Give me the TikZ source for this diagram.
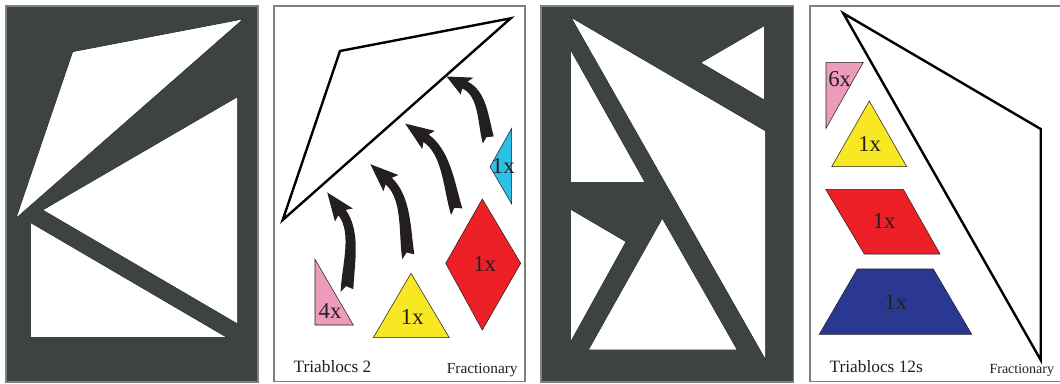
\documentclass[tikz,border=0pt]{standalone}
\usepackage{fontspec}
\setmainfont{Liberation Serif}
\definecolor{panel}{RGB}{61,67,66}
\definecolor{frame}{RGB}{128,128,128}
\definecolor{ink}{RGB}{35,31,32}
\definecolor{pinkc}{RGB}{236,155,187}
\definecolor{yellowc}{RGB}{248,232,36}
\definecolor{redc}{RGB}{237,32,40}
\definecolor{cyanc}{RGB}{44,192,230}
\definecolor{bluec}{RGB}{42,56,146}
\tikzset{
  darkpanel/.style={fill=panel,draw=frame,line width=0.8pt},
  whitepanel/.style={fill=white,draw=frame,line width=0.8pt},
  hole/.style={fill=white,draw=ink,line width=0.4pt,line join=miter},
  outline/.style={draw=black,line width=1.8pt,line join=miter},
  piece/.style={draw=ink,line width=0.4pt},
  count/.style={font=\fontsize{17}{17}\selectfont,text=ink,inner sep=0pt},
  title/.style={font=\fontsize{13}{13}\selectfont,text=ink,inner sep=0pt,anchor=base west},
  brand/.style={font=\fontsize{11.5}{11.5}\selectfont,text=ink,inner sep=0pt,anchor=base west},
  bigarrow/.pic={
    \fill[ink] (0,-4.5) -- (-6.5,0) .. controls (-0.5,-25) and (16.6,-54.6) .. (6.5,-75.5)
      -- (1.85,-70.05) -- (0,-100) -- (21.87,-79.29) -- (14.7,-79.3)
      .. controls (25.6,-54.6) and (12.5,-25) .. (6.5,0) -- cycle;
  }
}
\begin{document}
\begin{tikzpicture}[x=0.75pt,y=-0.75pt]
\useasboundingbox (0,0) rectangle (1060,383);
% panel 1
\path[darkpanel] (6,6) rectangle (258,382);
\path[hole] (72.7,51.7) -- (243.3,19) -- (16,218.3) -- cycle;
\path[hole] (42.7,210) -- (237.7,96.7) -- (237.7,324) -- cycle;
\path[hole] (30.7,222.7) -- (30.7,337.3) -- (226.7,337.3) -- cycle;
% panel 2
\path[whitepanel] (274,6) rectangle (525,381.7);
\path[outline] (340,51) -- (510.7,18.3) -- (282.7,220) -- cycle;
\path[piece,fill=pinkc] (315,259.3) -- (315,325) -- (353.3,325) -- cycle;
\path[piece,fill=yellowc] (411,273.3) -- (449.3,337.7) -- (373.3,337.7) -- cycle;
\path[piece,fill=redc] (482.3,199) -- (520.7,263.3) -- (482.3,330) -- (445.7,263.3) -- cycle;
\path[piece,fill=cyanc] (511.7,128.3) -- (511.7,204) -- (490,166.7) -- cycle;
\pic[rotate=11.4] at (347,290.5) {bigarrow};
\pic[rotate=22.3] at (408.3,256.7) {bigarrow};
\pic[rotate=30.3,yscale=1.02] at (456.7,211.7) {bigarrow};
\pic[rotate=33.3,yscale=0.76] at (488.3,140) {bigarrow};
\node[count] (c4x) at (330,310.8) {4x};
\node[count] (cy2) at (412.3,317.5) {1x};
\node[count] (cr2) at (484.7,264.2) {1x};
\node[count] (cc2) at (503.3,166.3) {1x};
\node[title] (t2) at (293.3,372.7) {Triablocs 2};
\node[brand] (f2) at (446.7,373.3) {Fractionary};
% panel 3
\path[darkpanel] (541,6) rectangle (793.3,382);
\path[hole] (571,17.3) -- (765.7,131) -- (765.7,360) -- cycle;
\path[hole] (700.7,62.7) -- (764.3,25.7) -- (764.3,100) -- cycle;
\path[hole] (570.7,50) -- (570.7,182.3) -- (645,182.3) -- cycle;
\path[hole] (570.7,209.3) -- (626,241.7) -- (570.7,341.7) -- cycle;
\path[hole] (662.3,218.3) -- (737.3,350) -- (588.3,350) -- cycle;
% panel 4
\path[whitepanel] (810,6) rectangle (1062,381.7);
\path[outline] (843.3,13.3) -- (1040.7,129) -- (1040.7,360) -- cycle;
\path[piece,fill=pinkc] (826,62.3) -- (863.3,62.3) -- (826,128.3) -- cycle;
\path[piece,fill=yellowc] (869.3,101) -- (906.7,166.7) -- (831.7,166.7) -- cycle;
\path[piece,fill=redc] (825.7,189.3) -- (903.3,189.3) -- (940,254) -- (864.3,254) -- cycle;
\path[piece,fill=bluec] (857.3,269) -- (933.3,269) -- (971.7,334.3) -- (819.3,334.3) -- cycle;
\node[count] (c6x) at (839.7,78.8) {6x};
\node[count] (cy4) at (869.7,143.7) {1x};
\node[count] (cr4) at (884.2,220.8) {1x};
\node[count] (cb4) at (895.8,302) {1x};
\node[title] (t4) at (829.3,372.7) {Triablocs 12s};
\node[brand,font=\fontsize{10.5}{10.5}\selectfont] (f4) at (989.3,373.3) {Fractionary};
\end{tikzpicture}
\end{document}
